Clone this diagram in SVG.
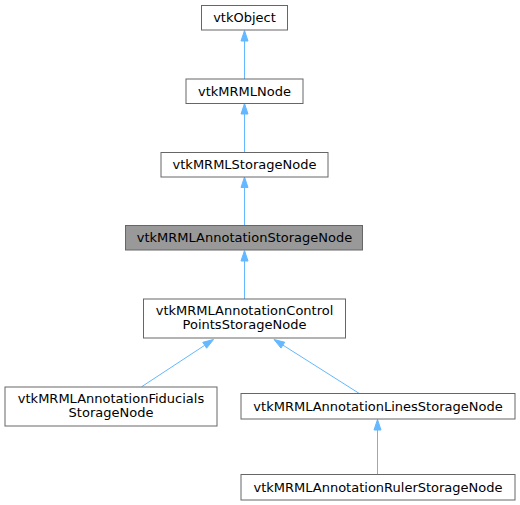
<svg xmlns="http://www.w3.org/2000/svg" width="520" height="505" viewBox="0 0 520 505">
<style>
.n rect{fill:#fff;stroke:#666;stroke-width:1}
.n.h rect{fill:#999}
.n text{font-family:"DejaVu Sans",sans-serif;font-size:13px;text-anchor:middle;fill:#000}
.e line{stroke:#63b8ff;stroke-width:1}
.e polygon{fill:#63b8ff;stroke:#63b8ff;stroke-width:1}
</style>
<rect width="520" height="505" fill="#fff"/>
<g id="connectors" class="e">
<line x1="244.5" y1="79" x2="244.5" y2="40.5"/><polygon points="244.5,30.5 241,41 248,41"/>
<line x1="244.5" y1="152.5" x2="244.5" y2="114"/><polygon points="244.5,103.5 241,114 248,114"/>
<line x1="244.5" y1="225" x2="244.5" y2="187.5"/><polygon points="244.5,177 241,187.5 248,187.5"/>
<line x1="244.5" y1="299" x2="244.5" y2="261"/><polygon points="244.5,250.5 241,261 248,261"/>
<line x1="141.7" y1="386.7" x2="204.7" y2="345.3"/><polygon points="213.5,339.5 206.6,348.2 202.8,342.3"/>
<line x1="359" y1="393.3" x2="282.9" y2="345.1"/><polygon points="274,339.5 284.7,342.2 281,348.1"/>
<line x1="377.5" y1="474.5" x2="377.5" y2="430"/><polygon points="377.5,419.5 374,430 381,430"/>
</g>
<g id="vtkObject" class="n"><rect x="201.5" y="5.5" width="86" height="24.5"/><text x="244.5" y="22">vtkObject</text></g>
<g id="vtkMRMLNode" class="n"><rect x="186" y="79" width="117" height="24.5"/><text x="244.5" y="95.5">vtkMRMLNode</text></g>
<g id="vtkMRMLStorageNode" class="n"><rect x="161" y="152.5" width="167" height="24.5"/><text x="244.5" y="169">vtkMRMLStorageNode</text></g>
<g id="vtkMRMLAnnotationStorageNode" class="n h"><rect x="125.5" y="225.5" width="237" height="24.5"/><text x="244.5" y="242">vtkMRMLAnnotationStorageNode</text></g>
<g id="vtkMRMLAnnotationControlPointsStorageNode" class="n"><rect x="143.5" y="299" width="202" height="39"/><text x="244.5" y="314.7">vtkMRMLAnnotationControl</text><text x="244.5" y="328.7">PointsStorageNode</text></g>
<g id="vtkMRMLAnnotationFiducialsStorageNode" class="n"><rect x="5" y="387" width="212" height="39"/><text x="111" y="402.7">vtkMRMLAnnotationFiducials</text><text x="111" y="416.7">StorageNode</text></g>
<g id="vtkMRMLAnnotationLinesStorageNode" class="n"><rect x="241" y="393.5" width="274" height="25.5"/><text x="378" y="410.5">vtkMRMLAnnotationLinesStorageNode</text></g>
<g id="vtkMRMLAnnotationRulerStorageNode" class="n"><rect x="241" y="474.5" width="274" height="25.5"/><text x="378" y="491.5">vtkMRMLAnnotationRulerStorageNode</text></g>
</svg>
